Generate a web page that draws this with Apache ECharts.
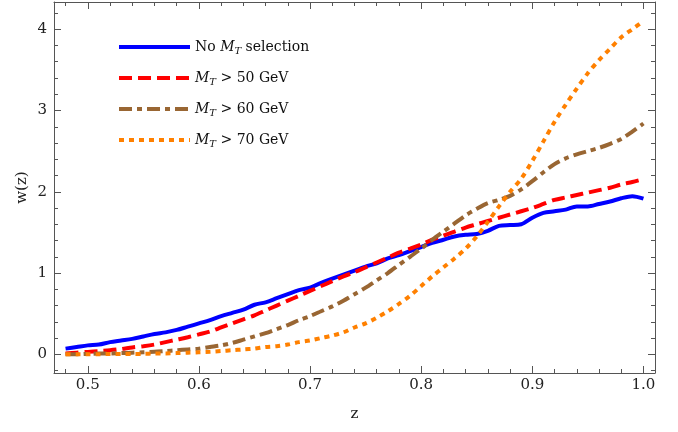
<!DOCTYPE html>
<html>
<head>
<meta charset="utf-8">
<script src="https://cdn.jsdelivr.net/npm/echarts@6/dist/echarts.min.js"></script>
<style>
  html, body { margin: 0; padding: 0; background: #fff; }
  #chart { width: 678px; height: 432px; }
</style>
</head>
<body>
<div id="chart"></div>
<script>
// z sample positions
const zValues = [
  0.48, 0.49, 0.50, 0.51, 0.52, 0.53, 0.54, 0.55, 0.56, 0.57,
  0.58, 0.59, 0.60, 0.61, 0.62, 0.63, 0.64, 0.65, 0.66, 0.67,
  0.68, 0.69, 0.70, 0.71, 0.72, 0.73, 0.74, 0.75, 0.76, 0.77,
  0.78, 0.79, 0.80, 0.81, 0.82, 0.83, 0.84, 0.85, 0.86, 0.87,
  0.88, 0.89, 0.90, 0.91, 0.92, 0.93, 0.94, 0.95, 0.96, 0.97,
  0.98, 0.99, 1.00
];

// w(z), no M_T selection
const wNoCut = [
  0.07, 0.09, 0.11, 0.12, 0.15, 0.17, 0.19, 0.22, 0.25, 0.27,
  0.30, 0.34, 0.38, 0.42, 0.47, 0.51, 0.55, 0.61, 0.64, 0.69,
  0.74, 0.79, 0.82, 0.88, 0.93, 0.98, 1.03, 1.08, 1.12, 1.18,
  1.22, 1.27, 1.32, 1.37, 1.41, 1.45, 1.47, 1.48, 1.52, 1.58,
  1.59, 1.60, 1.68, 1.74, 1.76, 1.78, 1.82, 1.82, 1.85, 1.88,
  1.92, 1.945, 1.915
];

// M_T > 50 GeV
const wMT50 = [
  0.01, 0.02, 0.03, 0.04, 0.05, 0.065, 0.085, 0.10, 0.12, 0.15,
  0.18, 0.21, 0.245, 0.28, 0.33, 0.38, 0.43, 0.48, 0.54, 0.60,
  0.66, 0.72, 0.78, 0.84, 0.90, 0.96, 1.01, 1.07, 1.13, 1.19,
  1.25, 1.30, 1.35, 1.41, 1.46, 1.51, 1.56, 1.60, 1.64, 1.68,
  1.72, 1.76, 1.80, 1.85, 1.90, 1.93, 1.96, 1.99, 2.02, 2.05,
  2.09, 2.12, 2.155
];

// M_T > 60 GeV
const wMT60 = [
  0.0, 0.0, 0.005, 0.01, 0.01, 0.015, 0.02, 0.025, 0.03, 0.04,
  0.05, 0.06, 0.07, 0.09, 0.11, 0.14, 0.18, 0.22, 0.26, 0.31,
  0.36, 0.42, 0.47, 0.53, 0.59, 0.66, 0.74, 0.82, 0.91, 1.00,
  1.10, 1.20, 1.30, 1.41, 1.51, 1.61, 1.71, 1.79, 1.86, 1.90,
  1.95, 2.03, 2.13, 2.24, 2.34, 2.41, 2.46, 2.50, 2.54, 2.59,
  2.65, 2.74, 2.84
];

// M_T > 70 GeV
const wMT70 = [
  0.0, 0.0, 0.0, 0.0, 0.005, 0.005, 0.005, 0.005, 0.01, 0.01,
  0.015, 0.02, 0.025, 0.03, 0.04, 0.05, 0.06, 0.07, 0.09, 0.10,
  0.12, 0.15, 0.17, 0.20, 0.23, 0.27, 0.33, 0.38, 0.45, 0.53,
  0.62, 0.72, 0.84, 0.96, 1.07, 1.18, 1.30, 1.45, 1.63, 1.82,
  2.00, 2.16, 2.38, 2.62, 2.86, 3.07, 3.27, 3.46, 3.62, 3.76,
  3.90, 4.00, 4.10
];

const seriesNames = ['No MT selection', 'MT > 50 GeV', 'MT > 60 GeV', 'MT > 70 GeV'];
const legendLabels = [
  '{t|No }{i|M}{s|T}{t| selection}',
  '{i|M}{s|T}{t| > 50 GeV}',
  '{i|M}{s|T}{t| > 60 GeV}',
  '{i|M}{s|T}{t| > 70 GeV}'
];

// tick labels
const xMajorTicks = [0.5, 0.6, 0.7, 0.8, 0.9, 1.0];
const yMajorTicks = [0, 1, 2, 3, 4];

const xMin = 0.4696, xMax = 1.0104;
const yMin = -0.23, yMax = 4.335;

// minor ticks every 0.02 on x and 0.2 on y
const xMinorTicks = [];
for (let i = 24; i <= 50; i++) {
  if (i % 5 !== 0) xMinorTicks.push(i / 50);
}
const yMinorTicks = [];
for (let i = -1; i <= 21; i++) {
  if (i % 5 !== 0) yMinorTicks.push(i / 5);
}

const FONT = 'DejaVu Serif';
const FRAME = '#555';
const LW = 4;

const pairs = (ys) => zValues.map((z, i) => [z, ys[i]]);

const makeX = (pos, ticks, len, withLabel, withLine) => ({
  type: 'value', position: pos, min: xMin, max: xMax,
  splitLine: { show: false },
  axisLine: { show: withLine, onZero: false, lineStyle: { color: FRAME, width: 1 } },
  axisTick: { show: true, inside: true, length: len, customValues: ticks, lineStyle: { color: FRAME } },
  axisLabel: withLabel ? {
    show: true, customValues: ticks, margin: 5,
    formatter: v => v.toFixed(1),
    fontFamily: FONT, fontSize: 15, color: '#222'
  } : { show: false }
});

const makeY = (pos, ticks, len, withLabel, withLine) => ({
  type: 'value', position: pos, min: yMin, max: yMax,
  splitLine: { show: false },
  axisLine: { show: withLine, onZero: false, lineStyle: { color: FRAME, width: 1 } },
  axisTick: { show: true, inside: true, length: len, customValues: ticks, lineStyle: { color: FRAME } },
  axisLabel: withLabel ? {
    show: true, customValues: ticks, margin: 7,
    formatter: v => String(Math.round(v)),
    fontFamily: FONT, fontSize: 15, color: '#222'
  } : { show: false }
});

const xAxes = [
  Object.assign(makeX('bottom', xMajorTicks, 7, true, true), {
    name: 'z', nameLocation: 'middle', nameGap: 34, nameMoveOverlap: false,
    nameTextStyle: { fontFamily: FONT, fontSize: 15, color: '#222' }
  }),
  makeX('bottom', xMinorTicks, 4, false, false),
  makeX('top', xMajorTicks, 7, false, true),
  makeX('top', xMinorTicks, 4, false, false)
];

const yAxes = [
  Object.assign(makeY('left', yMajorTicks, 7, true, true), {
    name: 'w(z)', nameLocation: 'middle', nameGap: 24, nameMoveOverlap: false,
    nameTextStyle: { fontFamily: FONT, fontSize: 15, color: '#222' }
  }),
  makeY('left', yMinorTicks, 4, false, false),
  makeY('right', yMajorTicks, 7, false, true),
  makeY('right', yMinorTicks, 4, false, false)
];

const styles = [
  { color: '#0000ff', type: 'solid' },
  { color: '#ff0000', type: [13, 6] },
  { color: '#996633', type: [13, 5, 5, 5] },
  { color: '#ff8000', type: [5, 5] }
];
const dataSets = [wNoCut, wMT50, wMT60, wMT70];

const chart = echarts.init(document.getElementById('chart'));
chart.setOption({
  animation: false,
  backgroundColor: '#fff',
  grid: { left: 54, right: 23, top: 2, bottom: 59 },
  legend: {
    orient: 'vertical',
    left: 117, top: 40, padding: 0,
    itemWidth: 71, itemHeight: 14, itemGap: 15, itemTextGap: 8,
    itemStyle: { opacity: 0 },
    data: seriesNames.map((name, k) => ({
      name: name,
      lineStyle: { color: styles[k].color, width: LW, type: styles[k].type, cap: 'butt' }
    })),
    formatter: name => legendLabels[seriesNames.indexOf(name)],
    textStyle: {
      fontFamily: FONT, fontSize: 14, color: '#111',
      rich: {
        t: { fontFamily: FONT, fontSize: 14, color: '#111' },
        i: { fontFamily: FONT, fontSize: 14, fontStyle: 'italic', color: '#111' },
        s: { fontFamily: FONT, fontSize: 10, fontStyle: 'italic', color: '#111', padding: [8, 0, 0, 0] }
      }
    }
  },
  xAxis: xAxes,
  yAxis: yAxes,
  series: seriesNames.map((name, k) => ({
    name: name,
    type: 'line',
    xAxisIndex: 0, yAxisIndex: 0,
    data: pairs(dataSets[k]),
    showSymbol: false, symbol: 'none',
    smooth: 0.3,
    color: styles[k].color,
    lineStyle: { color: styles[k].color, width: LW, type: styles[k].type, cap: 'butt' }
  }))
});
</script>
</body>
</html>
